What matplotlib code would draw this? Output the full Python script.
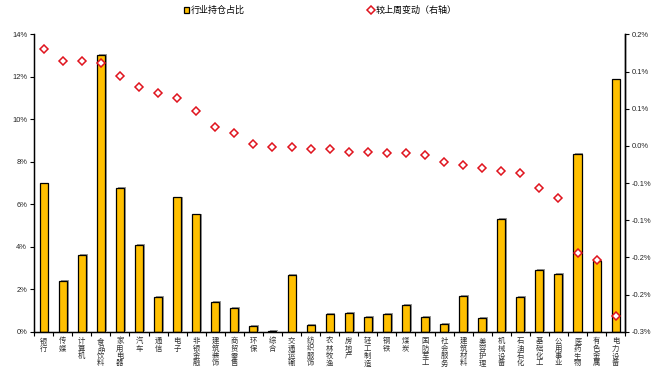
import matplotlib
matplotlib.use("Agg")
import matplotlib.pyplot as plt
import matplotlib.patheffects as pe
import matplotlib.transforms as mtrans
from matplotlib.lines import Line2D
from matplotlib.patches import Patch
import numpy as np

plt.rcParams['font.family'] = ['Noto Sans CJK SC', 'DejaVu Sans']

categories = ["银行", "传媒", "计算机", "食品饮料", "家用电器", "汽车", "通信", "电子",
              "非银金融", "建筑装饰", "商贸零售", "环保", "综合", "交通运输", "纺织服饰",
              "农林牧渔", "房地产", "轻工制造", "钢铁", "煤炭", "国防军工", "社会服务",
              "建筑材料", "美容护理", "机械设备", "石油石化", "基础化工", "公用事业",
              "医药生物", "有色金属", "电力设备"]
share = [7.0, 2.4, 3.63, 13.05, 6.78, 4.1, 1.65, 6.32,
         5.52, 1.42, 1.13, 0.28, 0.05, 2.69, 0.33,
         0.85, 0.9, 0.71, 0.85, 1.27, 0.71, 0.38,
         1.7, 0.66, 5.33, 1.65, 2.92, 2.74,
         8.38, 3.35, 11.9]
change = [0.131, 0.114, 0.114, 0.111, 0.094, 0.079, 0.071, 0.064,
          0.047, 0.026, 0.018, 0.002, -0.001, -0.0015, -0.004,
          -0.004, -0.008, -0.008, -0.009, -0.010, -0.012, -0.022,
          -0.026, -0.030, -0.034, -0.037, -0.057, -0.070,
          -0.144, -0.154, -0.229]
left_ticks = [0, 2, 4, 6, 8, 10, 12, 14]
left_labels = ["0%", "2%", "4%", "6%", "8%", "10%", "12%", "14%"]
right_ticks = [-0.25, -0.20, -0.15, -0.10, -0.05, 0.0, 0.05, 0.10, 0.15]
right_labels = ["-0.3%", "-0.2%", "-0.2%", "-0.1%", "-0.1%", "0.0%", "0.1%", "0.1%", "0.2%"]
legend_labels = ["行业持仓占比", "较上周变动（右轴）"]

bar_color = "#FFC000"
marker_color = "#E0141E"

fig = plt.figure(figsize=(6.56, 3.78), dpi=100)
ax = fig.add_axes([0.052, 0.1225, 0.901, 0.7865])
x = np.arange(len(categories))

bars = ax.bar(x, share, width=0.42, color=bar_color, edgecolor="black", linewidth=0.9, zorder=2)
for b in bars:
    b.set_path_effects([pe.SimplePatchShadow(offset=(1.3, 0.3), shadow_rgbFace="#808080", alpha=0.8),
                        pe.Normal()])

ax.set_xlim(-0.5, len(categories) - 0.5)
ax.set_ylim(0, 14)
ax.set_yticks(left_ticks)
ax.set_yticklabels(left_labels, fontsize=5.4, family=["Liberation Sans", "DejaVu Sans"], color="#222222")
ax.tick_params(axis="y", direction="out", length=3, width=0.8, pad=2)

# category labels: vertical stacked characters
ax.set_xticks(x)
ax.set_xticklabels([""] * len(categories))
ax.set_xticks(np.arange(-0.5, len(categories), 1.0), minor=True)
ax.tick_params(axis="x", which="major", length=0)
ax.tick_params(axis="x", which="minor", direction="out", length=3, width=0.8)
base = ax.get_xaxis_transform()
pitch_pt = 7.4 * 72 / 100
for i, cat in enumerate(categories):
    for j, ch in enumerate(cat):
        tr = mtrans.offset_copy(base, fig=fig, x=0, y=-(4.0 + j * pitch_pt), units="points")
        ax.text(x[i], 0, ch, transform=tr, ha="center", va="top", fontsize=5.3,
                color="#333333", clip_on=False)

ax.spines["top"].set_visible(False)
for s in ["left", "bottom", "right"]:
    ax.spines[s].set_linewidth(1.0)
    ax.spines[s].set_color("black")

ax2 = ax.twinx()
ax2.plot(x, change, linestyle="none", marker="D", markersize=3.7, markerfacecolor="white",
         markeredgecolor=marker_color, markeredgewidth=1.1, zorder=3)
ax2.set_ylim(-0.25, 0.15)
ax2.set_yticks(right_ticks)
ax2.set_yticklabels(right_labels, fontsize=5.4, family=["Liberation Sans", "DejaVu Sans"], color="#222222")
ax2.tick_params(axis="y", direction="out", length=3, width=0.8, pad=2)
ax2.spines["top"].set_visible(False)
ax2.spines["right"].set_linewidth(1.0)

handles = [Patch(facecolor=bar_color, edgecolor="black", linewidth=0.9),
           Line2D([], [], linestyle="none", marker="D", markersize=3.7, markerfacecolor="white",
                  markeredgecolor=marker_color, markeredgewidth=1.1)]
fig.legend(handles, legend_labels, loc="center left", bbox_to_anchor=(0.268, 0.972), ncol=2,
           frameon=False, fontsize=6.5, handlelength=0.6, handleheight=0.6, handletextpad=0.2,
           columnspacing=13.6)

fig.savefig("out.png", dpi=100)
